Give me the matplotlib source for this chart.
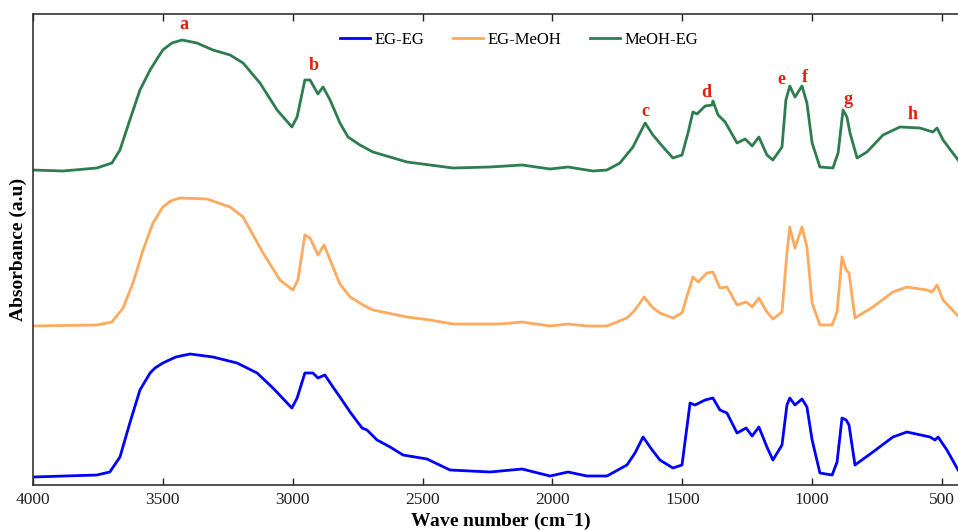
import numpy as np
import matplotlib.pyplot as plt

plt.rcParams['font.family'] = ['Liberation Serif', 'DejaVu Serif']
plt.rcParams['mathtext.default'] = 'regular'

# Wave numbers (cm-1) and absorbance (a.u., curves stacked as in the figure)
wn_meoh_eg = [4000, 3885, 3754, 3696, 3665, 3627, 3588, 3549, 3520, 3500, 3465, 3426, 3369, 3307, 3241,
              3191, 3126, 3060, 3003, 2983, 2953, 2933, 2903, 2883, 2856, 2818, 2787, 2741, 2691, 2560,
              2383, 2240, 2117, 2009, 1940, 1844, 1790, 1740, 1690, 1643, 1613, 1574, 1536, 1501, 1478,
              1459, 1443, 1412, 1385, 1382, 1362, 1335, 1289, 1258, 1231, 1205, 1174, 1151, 1116, 1101,
              1086, 1066, 1039, 1020, 1000, 970, 920, 900, 881, 866, 854, 827, 789, 727, 662, 585, 535,
              519, 496, 438]
ab_meoh_eg = [3.15, 3.14, 3.17, 3.22, 3.35, 3.65, 3.95, 4.15, 4.27, 4.35, 4.42, 4.45, 4.42, 4.35, 4.30,
              4.22, 4.02, 3.75, 3.58, 3.68, 4.05, 4.05, 3.91, 3.98, 3.85, 3.62, 3.48, 3.40, 3.33, 3.23,
              3.17, 3.18, 3.20, 3.16, 3.18, 3.14, 3.15, 3.22, 3.38, 3.62, 3.50, 3.38, 3.27, 3.30, 3.52,
              3.73, 3.71, 3.79, 3.80, 3.84, 3.70, 3.63, 3.42, 3.46, 3.39, 3.48, 3.30, 3.25, 3.38, 3.85,
              3.99, 3.88, 3.99, 3.82, 3.42, 3.18, 3.17, 3.32, 3.75, 3.68, 3.52, 3.27, 3.33, 3.50, 3.58,
              3.57, 3.53, 3.57, 3.45, 3.25]

wn_eg_meoh = [4000, 3754, 3696, 3653, 3615, 3576, 3538, 3500, 3470, 3434, 3330, 3241, 3191, 3114, 3049,
              2999, 2980, 2953, 2933, 2903, 2879, 2856, 2818, 2779, 2729, 2691, 2560, 2471, 2383, 2202,
              2117, 2009, 1940, 1867, 1790, 1713, 1682, 1647, 1616, 1586, 1536, 1501, 1478, 1459, 1439,
              1405, 1382, 1355, 1328, 1289, 1254, 1231, 1205, 1174, 1151, 1116, 1097, 1086, 1066, 1039,
              1020, 1000, 970, 923, 904, 885, 869, 858, 835, 766, 689, 635, 558, 538, 519, 496, 438]
ab_eg_meoh = [1.59, 1.60, 1.63, 1.77, 2.02, 2.35, 2.62, 2.78, 2.84, 2.87, 2.86, 2.78, 2.68, 2.32, 2.05,
              1.95, 2.05, 2.50, 2.47, 2.30, 2.40, 2.25, 2.01, 1.88, 1.80, 1.75, 1.68, 1.65, 1.61, 1.61,
              1.63, 1.59, 1.61, 1.59, 1.59, 1.67, 1.75, 1.88, 1.78, 1.72, 1.67, 1.72, 1.92, 2.08, 2.03,
              2.12, 2.13, 1.97, 1.98, 1.80, 1.83, 1.78, 1.87, 1.73, 1.66, 1.73, 2.32, 2.58, 2.37, 2.58,
              2.38, 1.82, 1.60, 1.60, 1.73, 2.28, 2.15, 2.12, 1.67, 1.78, 1.93, 1.98, 1.95, 1.93, 2.00,
              1.85, 1.69]

wn_eg_eg = [4000, 3754, 3704, 3665, 3627, 3588, 3549, 3530, 3500, 3450, 3395, 3307, 3214, 3137, 3076,
            3003, 2983, 2953, 2922, 2903, 2876, 2845, 2818, 2779, 2733, 2714, 2675, 2625, 2575, 2483,
            2394, 2240, 2117, 2009, 1940, 1867, 1790, 1713, 1682, 1651, 1616, 1586, 1536, 1501, 1470,
            1451, 1412, 1382, 1355, 1328, 1289, 1254, 1231, 1205, 1174, 1151, 1116, 1097, 1086, 1066,
            1039, 1020, 1000, 970, 923, 904, 885, 869, 858, 835, 766, 689, 635, 546, 527, 515, 481, 438]
ab_eg_eg = [0.08, 0.10, 0.13, 0.28, 0.62, 0.95, 1.12, 1.17, 1.22, 1.28, 1.31, 1.28, 1.22, 1.12, 0.97,
            0.77, 0.87, 1.12, 1.12, 1.07, 1.10, 0.98, 0.88, 0.73, 0.57, 0.55, 0.45, 0.38, 0.30, 0.26,
            0.15, 0.13, 0.16, 0.09, 0.13, 0.09, 0.09, 0.20, 0.32, 0.48, 0.35, 0.25, 0.17, 0.20, 0.82,
            0.80, 0.85, 0.87, 0.75, 0.72, 0.52, 0.57, 0.49, 0.58, 0.38, 0.25, 0.40, 0.80, 0.87, 0.80,
            0.86, 0.78, 0.45, 0.12, 0.10, 0.23, 0.67, 0.65, 0.60, 0.20, 0.33, 0.48, 0.53, 0.48, 0.45,
            0.48, 0.35, 0.15]

# Peak labels
peak_names = ['a', 'b', 'c', 'd', 'e', 'f', 'g', 'h']
peak_wn = [3418, 2918, 1643, 1408, 1120, 1027, 862, 612]
peak_ab = [4.60, 4.19, 3.73, 3.92, 4.05, 4.07, 3.85, 3.70]

fig = plt.figure(figsize=(9.58, 5.30), dpi=100)
ax = fig.add_axes([0.0344, 0.0849, 0.976, 0.8887])

ax.plot(wn_eg_eg, ab_eg_eg, color='#0000ff', lw=2.0, label='EG-EG')
ax.plot(wn_eg_meoh, ab_eg_meoh, color='#ffaa5e', lw=2.0, label='EG-MeOH')
ax.plot(wn_meoh_eg, ab_meoh_eg, color='#2e7d50', lw=2.0, label='MeOH-EG')

for name, x, y in zip(peak_names, peak_wn, peak_ab):
    ax.text(x, y, name, color='#e0200c', fontsize=13, fontweight='bold', ha='center', va='center')

ax.set_xlim(4000, 400)
ax.set_ylim(0, 4.71)
ax.set_xticks(np.arange(4000, 499, -500))
ax.set_yticks([])
ax.tick_params(axis='x', direction='in', top=True, length=5, width=1, labelsize=12.5, pad=5, colors='#222222')
for s in ax.spines.values():
    s.set_linewidth(1.2)
    s.set_color('#333333')

ax.set_xlabel('Wave number (cm$^{-}$1)', fontsize=14, fontweight='bold', labelpad=2)
ax.set_ylabel('Absorbance (a.u)', fontsize=14, fontweight='bold', labelpad=4)

ax.legend(loc='upper center', bbox_to_anchor=(0.52, 1.0), ncol=3, frameon=False, fontsize=12,
          handlelength=1.8, handletextpad=0.3, columnspacing=1.7, borderaxespad=0.7)

fig.savefig('out.png', dpi=100)
